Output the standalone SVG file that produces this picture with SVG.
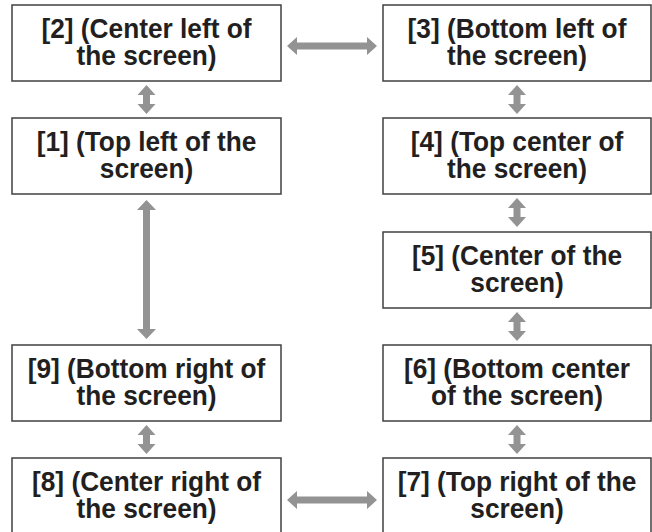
<svg xmlns="http://www.w3.org/2000/svg" width="652" height="532" viewBox="0 0 652 532">
<style>
.box{fill:#ffffff;stroke:#404040;stroke-width:1.5}
.t{font-family:"Liberation Sans",Arial,sans-serif;font-weight:bold;font-size:27.8px;fill:#231f20;text-anchor:middle}
.arr{fill:#939393;stroke:none}
</style>
<rect width="652" height="532" fill="#ffffff"/>
<g id="node2"><rect class="box" x="12" y="5" width="269" height="76"/><g transform="translate(146.5,0) scale(0.945,1)"><text class="t" x="0" y="38">[2] (Center left of</text><text class="t" x="0" y="65">the screen)</text></g></g>
<g id="node3"><rect class="box" x="383" y="5" width="268" height="76"/><g transform="translate(517,0) scale(0.945,1)"><text class="t" x="0" y="38">[3] (Bottom left of</text><text class="t" x="0" y="65">the screen)</text></g></g>
<g id="node1"><rect class="box" x="12" y="118" width="269" height="76"/><g transform="translate(146.5,0) scale(0.945,1)"><text class="t" x="0" y="151">[1] (Top left of the</text><text class="t" x="0" y="178">screen)</text></g></g>
<g id="node4"><rect class="box" x="383" y="118" width="268" height="76"/><g transform="translate(517,0) scale(0.945,1)"><text class="t" x="0" y="151">[4] (Top center of</text><text class="t" x="0" y="178">the screen)</text></g></g>
<g id="node5"><rect class="box" x="383" y="232" width="268" height="76"/><g transform="translate(517,0) scale(0.945,1)"><text class="t" x="0" y="265">[5] (Center of the</text><text class="t" x="0" y="292">screen)</text></g></g>
<g id="node9"><rect class="box" x="12" y="345" width="269" height="76"/><g transform="translate(146.5,0) scale(0.945,1)"><text class="t" x="0" y="378">[9] (Bottom right of</text><text class="t" x="0" y="405">the screen)</text></g></g>
<g id="node6"><rect class="box" x="383" y="345" width="268" height="76"/><g transform="translate(517,0) scale(0.945,1)"><text class="t" x="0" y="378">[6] (Bottom center</text><text class="t" x="0" y="405">of the screen)</text></g></g>
<g id="node8"><rect class="box" x="12" y="458" width="269" height="76"/><g transform="translate(146.5,0) scale(0.945,1)"><text class="t" x="0" y="491">[8] (Center right of</text><text class="t" x="0" y="518">the screen)</text></g></g>
<g id="node7"><rect class="box" x="383" y="458" width="268" height="76"/><g transform="translate(517,0) scale(0.945,1)"><text class="t" x="0" y="491">[7] (Top right of the</text><text class="t" x="0" y="518">screen)</text></g></g>
<g id="connectors">
<polygon class="arr" points="287,46 297,37 297,42.5 367,42.5 367,37 377,46 367,55 367,49.5 297,49.5 297,55"/>
<polygon class="arr" points="287,500 297,491 297,496.5 367,496.5 367,491 377,500 367,509 367,503.5 297,503.5 297,509"/>
<polygon class="arr" points="146.5,85 155.5,95 150,95 150,104 155.5,104 146.5,114 137.5,104 143,104 143,95 137.5,95"/>
<polygon class="arr" points="517,85 526,95 520.5,95 520.5,104 526,104 517,114 508,104 513.5,104 513.5,95 508,95"/>
<polygon class="arr" points="517,198 526,208 520.5,208 520.5,217 526,217 517,227 508,217 513.5,217 513.5,208 508,208"/>
<polygon class="arr" points="517,312 526,322 520.5,322 520.5,331 526,331 517,341 508,331 513.5,331 513.5,322 508,322"/>
<polygon class="arr" points="146.5,200 156,210 150,210 150,329 156,329 146.5,339 137,329 143,329 143,210 137,210"/>
<polygon class="arr" points="146.5,425 155.5,435 150,435 150,444 155.5,444 146.5,454 137.5,444 143,444 143,435 137.5,435"/>
<polygon class="arr" points="517,425 526,435 520.5,435 520.5,444 526,444 517,454 508,444 513.5,444 513.5,435 508,435"/>
</g>
</svg>
